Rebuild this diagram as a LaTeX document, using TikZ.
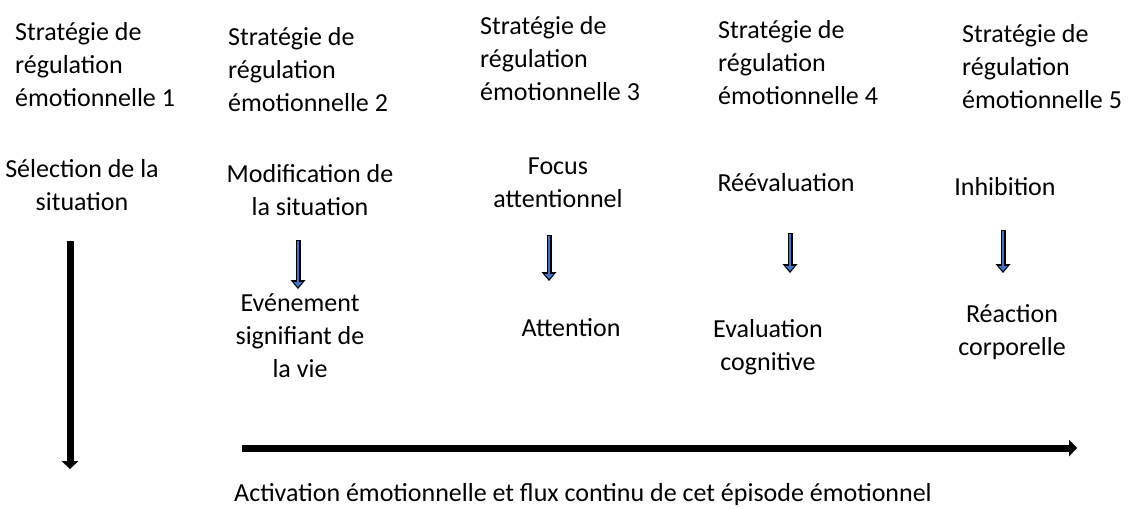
\documentclass[tikz,border=0pt]{standalone}
\usepackage{fontspec}
\setmainfont{Carlito}
\usetikzlibrary{arrows.meta}
\definecolor{arrowblue}{HTML}{4472C4}
\begin{document}
\begin{tikzpicture}[x=1pt,y=-1pt,
  txt/.style={inner sep=0pt, font=\fontsize{26}{33}\selectfont},
  title/.style={txt, anchor=base west, align=left},
  lab/.style={txt, anchor=base, align=center},
  bigarrow/.style={line width=7pt, black, -{Triangle[length=8pt 0, width=17pt 0, line width=0pt]}},
  smallouter/.style={line width=5pt, black, -{Triangle[length=9pt 0, width=15pt 0, line width=0pt]}},
  smallinner/.style={line width=2.6pt, arrowblue, shorten >=2pt, shorten <=1.2pt, -{Triangle[length=5pt 0, width=9pt 0, line width=0pt]}}
]
\useasboundingbox (0,0) rectangle (1128,509);

% titles (anchored at the baseline of the last line)
\node[title] (t1) at (15,106) {Stratégie de\\régulation\\émotionnelle 1};
\node[title] (t2) at (228,111) {Stratégie de\\régulation\\émotionnelle 2};
\node[title] (t3) at (480,100) {Stratégie de\\régulation\\émotionnelle 3};
\node[title] (t4) at (718,104) {Stratégie de\\régulation\\émotionnelle 4};
\node[title] (t5) at (962,108) {Stratégie de\\régulation\\émotionnelle 5};

% strategies
\node[lab] (s1) at (82,210) {Sélection de la\\situation};
\node[lab] (s2) at (310,215) {Modification de\\la situation};
\node[lab] (s3) at (558,207) {Focus\\attentionnel};
\node[lab] (s4) at (786,191) {Réévaluation};
\node[lab] (s5) at (1005,195) {Inhibition};

% outcomes
\node[lab] (o2) at (300,377) {Evénement\\signifiant de\\la vie};
\node[lab] (o3) at (571,336) {Attention};
\node[lab] (o4) at (768,370) {Evaluation\\cognitive};
\node[lab] (o5) at (1012,355) {Réaction\\corporelle};

\node[lab] (bottom) at (583,501) {Activation émotionnelle et flux continu de cet épisode émotionnel};

% small arrow end points
\coordinate (a2s) at (298,240); \coordinate (a2e) at (298,289);
\coordinate (a3s) at (549,235); \coordinate (a3e) at (549,281);
\coordinate (a4s) at (790,233); \coordinate (a4e) at (790,273);
\coordinate (a5s) at (1003,230); \coordinate (a5e) at (1003,273);
\foreach \a in {a2,a3,a4,a5}{
  \draw[smallouter] (\a s) -- (\a e);
  \draw[smallinner] (\a s) -- (\a e);
}

% big arrows
\coordinate (v1s) at (70,241); \coordinate (v1e) at (70,469);
\draw[bigarrow] (v1s) -- (v1e);
\coordinate (hs) at (242,448); \coordinate (he) at (1077,448);
\draw[bigarrow] (hs) -- (he);
\end{tikzpicture}
\end{document}
